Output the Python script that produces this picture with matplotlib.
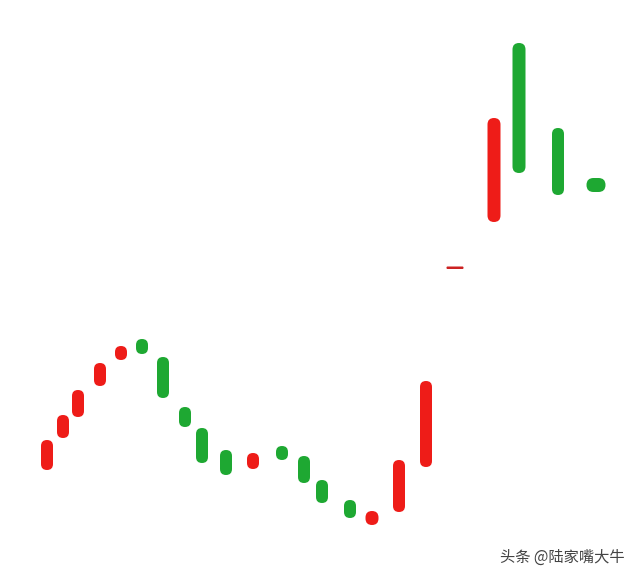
import matplotlib
matplotlib.use("Agg")
import matplotlib.pyplot as plt
from matplotlib.patches import FancyBboxPatch

plt.rcParams['font.family'] = ['Noto Sans CJK SC', 'DejaVu Sans']

# candle x positions and open/close values (arbitrary price units, higher = up)
xs     = [47, 63, 78, 100, 121, 142, 163, 185, 202, 226, 253, 282, 304, 322, 350, 372, 399, 426, 455, 494, 519, 558, 596]
opens  = [111, 143, 164, 195, 221, 242, 224, 174, 153, 131, 112, 135, 125, 101, 81, 56, 69, 114, 312, 359, 538, 453, 403]
closes = [141, 166, 191, 218, 235, 227, 183, 154, 118, 106, 128, 121, 98, 78, 63, 70, 121, 200, 313, 463, 408, 386, 389]
widths = [12, 12, 12, 12, 12, 12, 12, 12, 12, 12, 12, 12, 12, 12, 12, 13, 12, 12, 17, 13, 13, 12, 19]
watermark = "头条 @陆家嘴大牛"

RED = "#ee1c18"
GREEN = "#1ea832"
DOJI = "#cc2222"

fig = plt.figure(figsize=(6.4, 5.81), dpi=100)
ax = fig.add_axes([0, 0, 1, 1])
ax.set_xlim(0, 640)
ax.set_ylim(0, 581)
ax.axis("off")

for x, o, c, w in zip(xs, opens, closes, widths):
    lo, hi = min(o, c), max(o, c)
    h = hi - lo
    if h <= 2:
        ax.add_patch(FancyBboxPatch((x - w / 2, lo), w, 2.5,
                                    boxstyle="round,pad=0,rounding_size=1",
                                    fc=DOJI, ec="none"))
        continue
    color = RED if c > o else GREEN
    r = min(w / 2, h / 2)
    ax.add_patch(FancyBboxPatch((x - w / 2, lo), w, h,
                                boxstyle=f"round,pad=0,rounding_size={r}",
                                fc=color, ec="none"))

ax.text(625, 24, watermark, ha="right", va="center", fontsize=11, color="#444444")

fig.savefig("out.png", dpi=100, facecolor="white")
